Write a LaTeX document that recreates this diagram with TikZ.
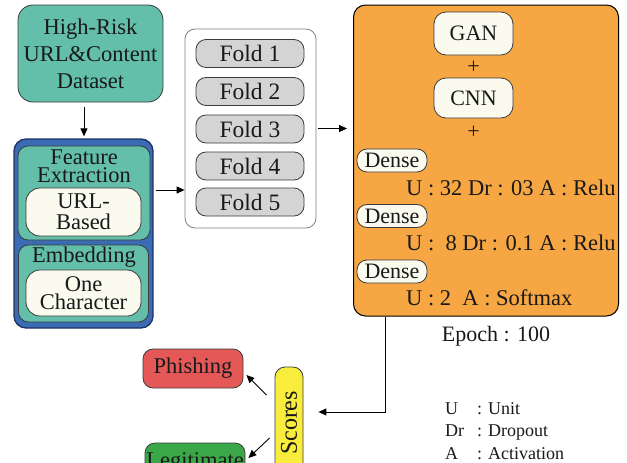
\documentclass[tikz,border=0pt]{standalone}
\usepackage{fontspec}
\setmainfont{Liberation Serif}
\usetikzlibrary{arrows.meta,calc}
\definecolor{cteal}{RGB}{99,191,170}
\definecolor{cblue}{RGB}{58,107,180}
\definecolor{cnavy}{RGB}{30,50,100}
\definecolor{corange}{RGB}{246,166,66}
\definecolor{ccream}{RGB}{250,250,238}
\definecolor{cgray}{RGB}{212,212,212}
\definecolor{cred}{RGB}{228,88,88}
\definecolor{cgreen}{RGB}{58,168,72}
\definecolor{cyellow}{RGB}{248,236,60}
\definecolor{cline}{RGB}{60,60,60}
\definecolor{ctext}{RGB}{25,25,25}
\begin{document}
\begin{tikzpicture}[x=1pt,y=-1pt,
  base/.style={draw=cline, line width=0.8pt, inner sep=0pt, align=center, text=ctext, font=\fontsize{22}{22}\selectfont},
  tealbox/.style={base, fill=cteal, rounded corners=10pt},
  creambox/.style={base, fill=ccream, rounded corners=14pt},
  foldbox/.style={base, fill=cgray, rounded corners=10pt, minimum width=108pt, minimum height=28pt, font=\fontsize{23.5}{23.5}\selectfont},
  densebox/.style={base, fill=ccream, rounded corners=10pt, minimum width=70pt, minimum height=23pt},
  plain/.style={inner sep=0pt, text=ctext, font=\fontsize{22}{22}\selectfont},
  legend/.style={inner sep=0pt, text=ctext, anchor=base west, font=\fontsize{18}{18}\selectfont},
  arr/.style={draw=black, line width=0.9pt, -{Triangle[length=8pt,width=7pt]}}
]
\useasboundingbox (0,0) rectangle (627,463);

% dataset
\node[tealbox, rounded corners=15pt, minimum width=145pt, minimum height=97pt,
      font=\fontsize{22.5}{27}\selectfont] (data) at (90.5,53.5) {High-Risk\\URL\&Content\\Dataset};

% feature block
\node[base, draw=cnavy, line width=1.3pt, fill=cblue, rounded corners=12pt,
      minimum width=139pt, minimum height=189pt] (outer) at (83.5,233.5) {};
\node[tealbox, minimum width=132pt, minimum height=94pt] (feat) at (84,193) {};
\node[plain, align=center, font=\fontsize{22.5}{18}\selectfont] (featt) at (84,166.5) {Feature\\Extraction};
\node[creambox, minimum width=115pt, minimum height=48pt, font=\fontsize{22.5}{21}\selectfont] (url) at (83.5,212) {URL-\\Based};
\node[tealbox, minimum width=130pt, minimum height=77pt] (emb) at (83.5,283.5) {};
\node[plain, font=\fontsize{22.5}{22}\selectfont] (embt) at (84,257) {Embedding};
\node[creambox, minimum width=115pt, minimum height=46pt, font=\fontsize{22.5}{17.5}\selectfont] (onec) at (83.5,293) {One\\Character};

% folds
\node[base, fill=white, draw=gray, rounded corners=10pt, minimum width=131pt, minimum height=199pt] (folds) at (250.5,128.5) {};
\node[foldbox] (f1) at (250,53.5) {Fold 1};
\node[foldbox] (f2) at (250,91.5) {Fold 2};
\node[foldbox] (f3) at (250,129) {Fold 3};
\node[foldbox] (f4) at (250,166) {Fold 4};
\node[foldbox] (f5) at (250,202) {Fold 5};

% model
\node[base, draw=black, line width=1pt, fill=corange, rounded corners=12pt, minimum width=265pt, minimum height=311pt] (model) at (486,160.5) {};
\node[creambox, rounded corners=12pt, minimum width=79pt, minimum height=43pt] (gan) at (473.5,33.5) {GAN};
\node[plain] (p1) at (473.5,67) {+};
\node[creambox, rounded corners=12pt, minimum width=79pt, minimum height=40pt] (cnn) at (473.5,98) {CNN};
\node[plain] (p2) at (473.5,132) {+};
\node[densebox] (d1) at (392,160.5) {Dense};
\node[plain, anchor=west, font=\fontsize{22.5}{22}\selectfont] (t1) at (406,188) {U : 32 Dr : 03 A : Relu};
\node[densebox] (d2) at (392,216) {Dense};
\node[plain, anchor=west, font=\fontsize{22.5}{22}\selectfont] (t2) at (406,243) {U :~~8 Dr : 0.1 A : Relu};
\node[densebox] (d3) at (392,271.5) {Dense};
\node[plain, anchor=west, font=\fontsize{22.5}{22}\selectfont] (t3) at (406,298) {U : 2~~A : Softmax};
\node[plain] (epoch) at (496,336) {Epoch : 100};

% outputs
\node[base, fill=cyellow, rounded corners=10pt, minimum width=28pt, minimum height=112pt, font=\fontsize{24}{24}\selectfont] (scores) at (289,423) {\rotatebox{90}{Scores}};
\node[base, fill=cred, rounded corners=10pt, minimum width=100pt, minimum height=39pt, font=\fontsize{22.5}{22}\selectfont] (phish) at (193,368.5) {Phishing};
\node[base, fill=cgreen, rounded corners=10pt, minimum width=100pt, minimum height=39pt, font=\fontsize{22.5}{22}\selectfont] (legit) at (195,462.5) {Legitimate};

% legend
\node[legend] (lu) at (445,414) {U};
\node[legend] (lu2) at (477,414) {: Unit};
\node[legend] (ld) at (445,436) {Dr};
\node[legend] (ld2) at (477,436) {: Dropout};
\node[legend] (la) at (445,459) {A};
\node[legend] (la2) at (477,459) {: Activation};

% connectors
\draw[arr, shorten <=5pt, shorten >=2pt] (data.south -| 84,0) -- (outer.north -| 84,0);
\draw[arr, shorten <=2pt] ([yshift=43.5pt]outer.east) -- ([yshift=43.5pt]outer.east -| folds.west);
\draw[arr, shorten <=2pt, shorten >=6pt] (folds.east) -- (folds.east -| model.west);
\coordinate (bend) at (385,412);
\draw[arr, shorten >=15pt] (bend |- model.south) -- (bend) -- (bend -| scores.east);
\draw[arr] ([xshift=-8pt,yshift=28pt]scores.west) -- ([xshift=3pt,yshift=-6.5pt]phish.east);
\draw[arr] ([xshift=-5pt,yshift=-15pt]scores.west) -- ([xshift=3pt,yshift=4.5pt]legit.east);
\end{tikzpicture}
\end{document}
